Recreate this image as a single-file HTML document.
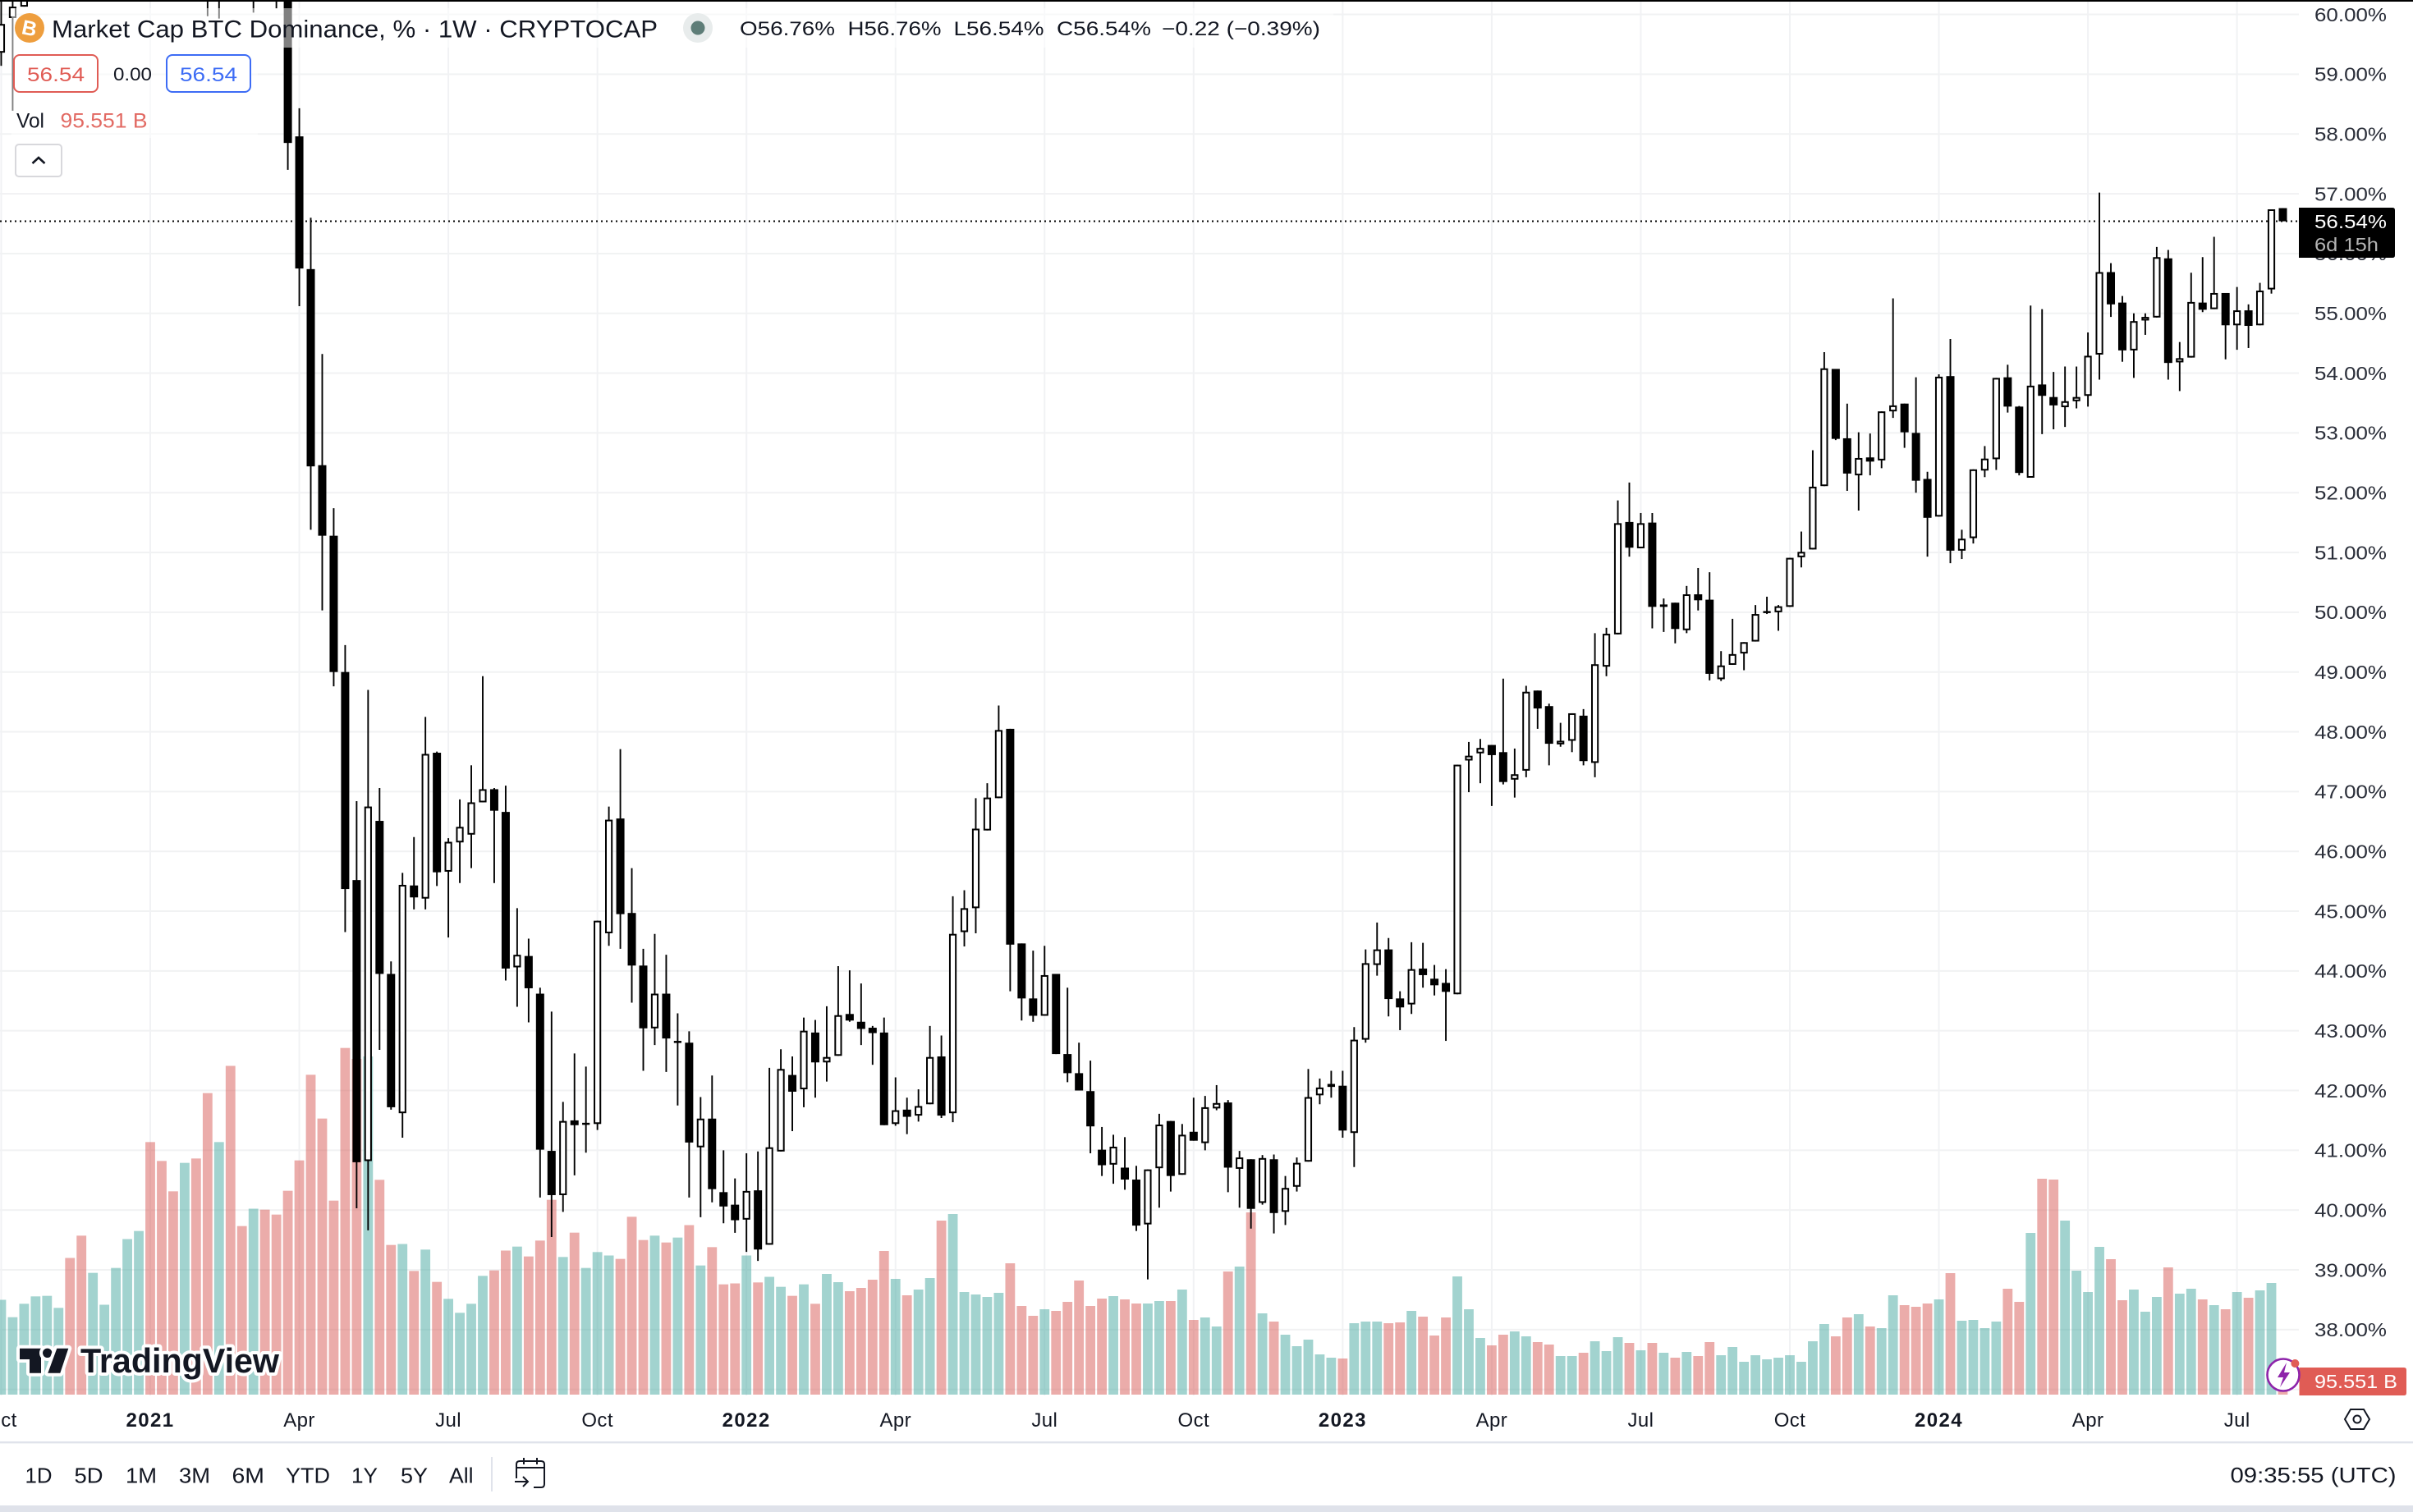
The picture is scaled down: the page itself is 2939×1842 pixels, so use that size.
<!DOCTYPE html>
<html lang="en">
<head>
<meta charset="utf-8">
<title>Market Cap BTC Dominance, % · 1W · CRYPTOCAP</title>
<style>
  html,body{margin:0;padding:0;background:#fff;width:2939px;height:1842px;overflow:hidden}
  svg{display:block;font-family:"Liberation Sans",sans-serif}
</style>
</head>
<body>
<svg id="chart" xmlns="http://www.w3.org/2000/svg" width="2939" height="1842" viewBox="0 0 2939 1842">
  <defs><clipPath id="pane-clip"><rect x="0" y="2" width="2800" height="1698"/></clipPath></defs>
  <rect x="0" y="0" width="2939" height="1842" fill="#ffffff"/>
  <g id="grid" clip-path="url(#pane-clip)"></g>
  <g id="volumes" clip-path="url(#pane-clip)"></g>
  <line id="last-line" x1="0" x2="2800" stroke="#000" stroke-width="2" stroke-dasharray="2 4"/>
  <g id="candles" clip-path="url(#pane-clip)"></g>
  <g id="y-axis"></g>
  <g id="x-axis"></g>

  <rect x="0" y="0" width="2939" height="2" fill="#000"/>

  <g>
    <rect x="14" y="10" width="1610" height="48" fill="#ffffff" fill-opacity="0.5"/>
    <rect x="14" y="58" width="300" height="110" fill="#ffffff" fill-opacity="0.5"/>
    <circle cx="36" cy="34" r="18" fill="#ee9e3e"/>
    <text x="36" y="43" text-anchor="middle" font-size="25" font-weight="700" fill="#fff" transform="rotate(12 36 34)">B</text>
    <text x="63" y="45.5" font-size="30" fill="#131722" textLength="738" lengthAdjust="spacingAndGlyphs">Market Cap BTC Dominance, % · 1W · CRYPTOCAP</text>
    <circle cx="850" cy="34" r="18" fill="#e8ecec"/>
    <circle cx="850" cy="34" r="8.5" fill="#5e7d78"/>
    <text x="901" y="43" font-size="24" fill="#131722" textLength="116" lengthAdjust="spacingAndGlyphs">O56.76%</text>
    <text x="1032.5" y="43" font-size="24" fill="#131722" textLength="114" lengthAdjust="spacingAndGlyphs">H56.76%</text>
    <text x="1161.5" y="43" font-size="24" fill="#131722" textLength="110" lengthAdjust="spacingAndGlyphs">L56.54%</text>
    <text x="1287" y="43" font-size="24" fill="#131722" textLength="115" lengthAdjust="spacingAndGlyphs">C56.54%</text>
    <text x="1415" y="43" font-size="24" fill="#131722" textLength="193" lengthAdjust="spacingAndGlyphs">−0.22 (−0.39%)</text>

    <rect x="17" y="67" width="102" height="45" rx="7" fill="#fff" stroke="#e05c55" stroke-width="2"/>
    <text x="33" y="99" font-size="24" fill="#e05c55" textLength="70" lengthAdjust="spacingAndGlyphs">56.54</text>
    <text x="138" y="98" font-size="22" fill="#131722" textLength="47" lengthAdjust="spacingAndGlyphs">0.00</text>
    <rect x="203" y="67" width="102" height="45" rx="7" fill="#fff" stroke="#3d6cf5" stroke-width="2"/>
    <text x="219" y="99" font-size="24" fill="#3d6cf5" textLength="70" lengthAdjust="spacingAndGlyphs">56.54</text>
    <text x="20" y="155.5" font-size="25" fill="#131722" textLength="34" lengthAdjust="spacingAndGlyphs">Vol</text>
    <text x="73.5" y="155.5" font-size="25" fill="#e26a63" textLength="106" lengthAdjust="spacingAndGlyphs">95.551 B</text>
    <rect x="19" y="176" width="56" height="39" rx="4" fill="#fff" stroke="#d8d8dc" stroke-width="2"/>
    <path d="M39.5 199 L47 192 L54.5 199" fill="none" stroke="#131722" stroke-width="2.6"/>
  </g>

  <g>
    <g fill="#131722" stroke="#fff" stroke-width="8" stroke-linejoin="round" style="paint-order:stroke">
      <path d="M24 1642.7 H50 V1672.7 H36 V1656 H24 Z"/>
      <circle cx="57.7" cy="1648.3" r="5.7"/>
      <path d="M69.3 1642.7 H83.3 L73.3 1672.7 H58.3 Z"/>
    </g>
    <text x="98" y="1672" font-size="42" font-weight="700" fill="#131722" stroke="#fff" stroke-width="8" stroke-linejoin="round" style="paint-order:stroke" textLength="242" lengthAdjust="spacingAndGlyphs">TradingView</text>
  </g>

  <g>
    <path d="M2800 253 H2914 Q2917 253 2917 256 V311 Q2917 314 2914 314 H2800 Z" fill="#000"/>
    <text x="2819" y="278" font-size="23" fill="#fff" textLength="88" lengthAdjust="spacingAndGlyphs">56.54%</text>
    <text x="2819" y="306" font-size="23" fill="#b4b4b4" textLength="78" lengthAdjust="spacingAndGlyphs">6d 15h</text>
  </g>

  <g>
    <path d="M2800.5 1666 H2928 Q2931 1666 2931 1669 V1697 Q2931 1700 2928 1700 H2800.5 Z" fill="#e05c55"/>
    <text x="2819" y="1691" font-size="23" fill="#fff" textLength="101" lengthAdjust="spacingAndGlyphs">95.551 B</text>
  </g>

  <g>
    <circle cx="2781" cy="1675" r="19.5" fill="#fff" stroke="#8e24aa" stroke-width="2.6"/>
    <path d="M2785 1660 L2774 1678 H2781 L2777 1690 L2789 1672 H2782 Z" fill="#8e24aa"/>
    <circle cx="2795.4" cy="1661" r="5" fill="#e05c55"/>
  </g>

  <g fill="none" stroke="#131722" stroke-width="2">
    <path d="M2863 1717 H2879 L2886 1729 L2879 1741 H2863 L2856 1729 Z"/>
    <circle cx="2871" cy="1729" r="4.5"/>
  </g>

  <rect x="0" y="1756" width="2939" height="2.4" fill="#e0e3eb"/>
  <g font-size="26" fill="#131722">
    <text x="30.5" y="1806.5" textLength="33" lengthAdjust="spacingAndGlyphs">1D</text>
    <text x="90.5" y="1806.5" textLength="35" lengthAdjust="spacingAndGlyphs">5D</text>
    <text x="153" y="1806.5" textLength="38" lengthAdjust="spacingAndGlyphs">1M</text>
    <text x="218" y="1806.5" textLength="38" lengthAdjust="spacingAndGlyphs">3M</text>
    <text x="282.5" y="1806.5" textLength="39.5" lengthAdjust="spacingAndGlyphs">6M</text>
    <text x="348" y="1806.5" textLength="54" lengthAdjust="spacingAndGlyphs">YTD</text>
    <text x="428" y="1806.5" textLength="32" lengthAdjust="spacingAndGlyphs">1Y</text>
    <text x="488" y="1806.5" textLength="33" lengthAdjust="spacingAndGlyphs">5Y</text>
    <text x="547" y="1806.5" textLength="29.5" lengthAdjust="spacingAndGlyphs">All</text>
  </g>
  <rect x="598" y="1775" width="2" height="42" fill="#e0e3eb"/>
  <g fill="none" stroke="#131722" stroke-width="2">
    <path d="M629 1801 V1784 Q629 1780 633 1780 H659 Q663 1780 663 1784 V1808 Q663 1812 659 1812 H650 M629 1788 H663 M638 1776 V1784 M654 1776 V1784"/>
    <path d="M627 1805 H643 M637 1799 L643 1805 L637 1811"/>
  </g>
  <text x="2716.5" y="1806" font-size="26" fill="#131722" textLength="202" lengthAdjust="spacingAndGlyphs">09:35:55 (UTC)</text>
  <rect x="0" y="1834" width="2939" height="8" fill="#dfe2ea"/>
</svg>

<script>
// Weekly BTC dominance (%). Bars above the visible range are estimates.
const opens = [
59.36,59.94,60.13,60.6,61.0,61.5,62.0,61.5,61.0,62.0,
62.6,63.2,64.0,65.0,63.5,62.5,61.5,62.8,62.0,61.0,
62.2,61.2,60.9,61.5,61.2,61.0,57.96,55.74,52.46,51.28,
49.0,45.52,40.82,46.51,43.95,41.62,45.43,45.21,47.65,45.66,
46.15,46.28,46.82,47.04,46.66,44.06,44.25,43.62,40.99,40.25,
41.5,41.44,41.44,44.63,46.55,44.97,44.09,43.04,43.62,42.81,
42.8,41.05,41.53,40.3,40.09,39.84,40.33,39.42,40.98,42.26,
42.02,42.97,42.47,42.58,43.28,43.15,43.05,42.97,41.44,41.68,
41.58,41.77,42.57,41.62,44.65,45.05,46.35,46.89,48.05,44.46,
43.54,43.25,43.95,42.61,42.29,41.99,41.01,40.76,40.71,40.51,
39.76,40.7,41.49,40.59,41.31,41.12,41.7,41.8,40.69,40.85,
40.12,40.85,39.97,40.39,40.81,41.92,42.06,42.08,41.29,42.85,
44.1,44.36,43.54,43.44,44.04,43.87,43.8,43.61,47.52,47.64,
47.78,47.66,47.2,47.35,48.69,48.43,47.79,47.85,48.27,47.48,
49.09,49.63,51.51,51.07,51.5,50.09,50.16,49.7,50.3,50.21,
48.88,49.12,49.31,49.51,49.99,50.0,50.09,50.92,51.05,52.11,
54.07,52.91,52.29,52.59,52.54,53.36,53.49,53.0,52.23,51.6,
53.95,51.03,51.24,52.37,52.56,53.93,53.44,52.25,53.81,53.6,
53.43,53.53,53.62,54.31,55.69,55.18,54.38,54.88,54.93,55.92,
54.18,54.26,55.18,55.07,55.34,54.8,55.05,54.8,55.4,56.76
];
const highs = [
60.5,60.5,60.6,61.3,61.9,62.4,63.0,62.6,62.6,63.0,
63.8,64.6,65.5,66.0,64.5,63.5,63.5,64.0,63.0,63.0,
63.5,62.2,62.0,62.5,62.0,61.6,58.43,56.6,54.32,51.74,
49.45,46.84,48.7,47.06,44.16,45.64,46.24,48.25,47.67,46.22,
46.87,47.44,48.93,47.06,47.1,45.05,44.54,43.72,43.32,41.81,
42.62,42.4,44.84,46.75,47.71,45.72,44.37,44.62,44.27,43.29,
42.99,41.89,42.25,41.0,40.53,40.95,40.98,42.38,42.69,42.57,
43.22,43.18,43.41,44.08,44.01,43.79,43.08,43.22,42.22,41.88,
42.02,43.08,42.92,45.25,45.35,46.89,47.14,48.44,48.05,44.46,
44.34,44.42,43.95,43.72,42.8,42.5,41.39,41.26,41.22,40.74,
40.68,41.61,41.49,41.44,41.88,41.91,42.09,41.84,40.99,40.85,
40.92,40.93,40.57,40.88,42.36,42.2,42.33,42.33,43.06,44.36,
44.81,44.55,43.66,44.48,44.47,44.1,44.03,47.45,47.83,47.88,
47.78,48.89,47.72,48.77,48.69,48.47,48.15,48.31,48.38,49.65,
49.74,51.87,52.17,51.66,51.66,50.23,50.16,50.44,50.74,50.67,
49.35,49.89,49.5,50.12,50.26,50.12,50.91,51.35,52.71,54.35,
54.07,53.49,53.01,52.99,53.36,55.25,53.49,53.93,52.35,53.98,
54.57,51.38,52.39,52.78,53.92,54.14,53.45,55.13,55.07,54.02,
54.11,54.11,54.68,57.02,55.84,55.29,55.0,55.0,56.11,56.06,
54.52,55.68,55.94,56.28,55.34,55.44,55.15,55.51,56.74,56.76
];
const lows = [
59.14,58.39,60.13,60.4,60.7,61.2,60.9,60.6,60.8,61.7,
62.2,62.9,63.7,62.5,61.5,60.8,61.0,61.0,59.97,59.93,
60.4,60.5,60.03,60.6,60.1,57.4,55.12,51.38,50.03,48.76,
44.65,40.03,39.66,42.68,41.68,41.21,45.03,45.03,45.42,44.56,
45.47,45.72,46.82,45.47,43.84,43.4,43.14,40.21,39.55,39.97,
40.58,40.96,41.34,44.42,44.37,43.47,42.33,42.76,42.31,41.75,
40.21,39.88,40.13,39.78,39.62,39.3,39.15,39.42,40.98,41.32,
41.72,41.88,42.15,42.58,43.15,42.76,42.43,41.42,41.41,41.27,
41.48,41.77,41.54,41.47,44.41,44.63,46.35,46.89,43.66,43.17,
43.15,43.25,42.61,42.14,42.0,40.95,40.57,40.44,40.34,39.65,
38.84,40.04,40.31,40.59,41.16,41.0,41.67,40.3,40.04,39.69,
40.09,39.61,39.75,40.31,40.81,41.77,41.88,41.21,40.72,42.8,
43.92,43.24,43.01,43.28,43.72,43.59,42.83,43.61,46.99,47.14,
46.76,47.12,46.9,47.24,48.05,47.44,47.75,47.66,47.44,47.24,
48.93,49.63,50.93,51.07,49.73,49.67,49.48,49.65,50.03,48.86,
48.85,49.12,49.03,49.51,49.97,49.69,50.09,50.75,51.05,52.11,
52.88,52.03,51.7,52.29,52.41,53.25,52.75,52.0,50.93,51.6,
50.82,50.89,51.15,52.26,52.38,53.34,52.29,52.25,52.98,53.06,
53.1,53.41,53.44,53.89,54.94,54.19,53.92,54.64,54.93,53.89,
53.7,54.26,55.02,55.07,54.23,54.39,54.42,54.8,55.33,56.54
];
const closes = [
59.84,60.13,60.5,61.0,61.5,62.0,61.3,61.0,62.0,62.6,
63.2,64.0,65.0,63.5,62.5,61.5,62.8,62.0,61.0,62.2,
61.2,60.9,61.5,61.0,60.8,57.85,55.75,52.44,51.28,49.0,
45.37,40.8,46.75,43.95,41.72,45.44,45.23,47.63,45.65,46.16,
46.41,46.82,47.04,46.68,44.04,44.27,43.71,41.01,40.25,41.49,
41.42,41.46,44.84,46.53,44.95,44.09,43.04,43.62,42.87,42.83,
41.13,41.53,40.35,40.06,39.83,40.32,39.34,41.05,42.36,41.98,
43.0,42.47,42.56,43.26,43.17,43.03,42.96,41.42,41.67,41.56,
41.74,42.56,41.58,44.62,45.05,46.38,46.9,48.03,44.44,43.54,
43.25,43.93,42.61,42.29,42.0,41.4,40.75,41.06,40.51,39.74,
40.68,41.43,40.57,41.26,41.16,41.72,41.79,40.71,40.88,40.02,
40.87,39.95,40.37,40.79,41.89,42.05,42.11,41.33,42.85,44.13,
44.36,43.53,43.39,44.03,43.93,43.76,43.65,47.45,47.6,47.73,
47.61,47.16,47.29,48.67,48.39,47.8,47.85,48.31,47.51,49.13,
49.64,51.49,51.08,51.49,50.09,50.13,49.72,50.3,50.2,48.97,
49.11,49.3,49.5,49.97,50.02,50.1,50.91,51.01,52.1,54.08,
52.9,52.32,52.58,52.52,53.36,53.46,53.01,52.2,51.58,53.94,
51.03,51.23,52.39,52.57,53.92,53.44,52.33,53.79,53.62,53.46,
53.53,53.6,54.29,55.69,55.15,54.38,54.87,54.94,55.94,54.17,
54.25,55.19,55.06,55.34,54.8,55.05,54.79,55.38,56.74,56.54
];
// Weekly volume, in billions
const volumes = [
693,566,664,718,722,634,999,1162,890,657,
926,1137,1196,1846,1708,1486,1694,1726,2204,1846,
2403,1232,1359,1352,1316,1490,1712,2338,2018,1418,
2534,2454,2472,1570,1094,1101,904,1060,824,700,
598,664,868,908,1053,1082,1010,1126,1424,1006,
1184,926,1042,1017,992,1300,1130,1162,1112,1148,
1239,944,1078,806,813,1017,820,861,788,722,
806,664,882,822,756,780,840,1050,846,726,
768,852,1272,1320,750,732,714,744,960,648,
576,624,612,678,834,648,702,720,696,666,
666,684,684,768,546,564,498,900,936,1332,
594,534,438,354,402,294,270,264,522,534,
534,522,528,612,570,432,564,864,624,414,
360,438,462,426,384,366,282,282,306,390,
318,420,378,324,378,306,270,312,282,384,
288,348,240,288,258,270,288,240,390,516,
426,564,588,498,486,726,654,642,666,696,
888,540,546,486,534,774,678,1182,1578,1572,
1272,906,750,1080,990,690,768,606,714,930,
738,774,696,654,624,750,708,762,816,95.551
];
const yTicks = [60,59,58,57,56,55,54,53,52,51,50,49,48,47,46,45,44,43,42,41,40,39,38];
const gridOnlyTicks = [37];
const timeTickLabels = ['Oct','2021','Apr','Jul','Oct','2022','Apr','Jul','Oct','2023','Apr','Jul','Oct','2024','Apr','Jul'];
const timeTickWeeks = [0,13,26,39,52,65,78,91,104,117,130,143,156,169,182,195];
const lastPrice = 56.54;

const NS = 'http://www.w3.org/2000/svg';
function xOf(i){ return 1.46 + i * 13.965; }
function yOf(p){ return 1547 - (p - 39) * 72.83; }
function volTop(v){ return 1699 - v / 6; }
function make(tag, attrs, parent){
  const el = document.createElementNS(NS, tag);
  for (const k in attrs) el.setAttribute(k, attrs[k]);
  parent.appendChild(el);
  return el;
}
const gridG = document.getElementById('grid');
const volG = document.getElementById('volumes');
const candleG = document.getElementById('candles');
const yAxisG = document.getElementById('y-axis');
const xAxisG = document.getElementById('x-axis');

yTicks.concat(gridOnlyTicks).forEach(function(p){
  const line = make('rect', {x:0, y:yOf(p)-1, width:2800, height:2, fill:'#f1f2f3'}, gridG);
  
  
});
timeTickWeeks.forEach(function(w){
  const line = make('rect', {x:xOf(w)-1, y:2, width:2, height:1698, fill:'#f1f2f4'}, gridG);
  
  
});

volumes.forEach(function(v, i){
  const up = closes[i] >= opens[i];
  const top = volTop(v);
  const bar = make('rect', {x:xOf(i)-5.9, y:top, width:11.8, height:1699-top, fill: up ? '#45a89f' : '#d85a55', 'fill-opacity':0.5}, volG);
  
  
});

document.getElementById('last-line').setAttribute('y1', yOf(lastPrice));
document.getElementById('last-line').setAttribute('y2', yOf(lastPrice));

opens.forEach(function(o, i){
  const c = closes[i];
  const up = c >= o;
  const x = xOf(i);
  const topY = yOf(Math.max(o, c));
  const botY = yOf(Math.min(o, c));
  const g = make('g', {}, candleG);
  
  
  const wick = make('line', {x1:x, x2:x, y1:yOf(highs[i]), y2:yOf(lows[i]), stroke:'#000', 'stroke-width':1.9}, g);
  
  
  const h = botY - topY;
  const body = up
    ? make('rect', {x:x-3.6, y:topY+1, width:7.2, height:Math.max(h-2, 0.5), fill:'#fff', stroke:'#000', 'stroke-width':2}, g)
    : make('rect', {x:x-5, y:topY, width:10, height:Math.max(h, 2), fill:'#000'}, g);
  
  
});

yTicks.forEach(function(p){
  const t = make('text', {x:2819, y:yOf(p)+8.3, 'font-size':23, fill:'#2a2e39', textLength:88, lengthAdjust:'spacingAndGlyphs'}, yAxisG);
  t.textContent = p.toFixed(2) + '%';
  
  
});

timeTickLabels.forEach(function(label, k){
  const isYear = /^\d{4}$/.test(label);
  const t = make('text', {x:xOf(timeTickWeeks[k]), y:1738, 'font-size':24, 'text-anchor':'middle', fill:'#131722', 'font-weight': isYear ? 700 : 400, 'letter-spacing': isYear ? 1.4 : 0.4}, xAxisG);
  t.textContent = label;
  
  
});
</script>
</body>
</html>
